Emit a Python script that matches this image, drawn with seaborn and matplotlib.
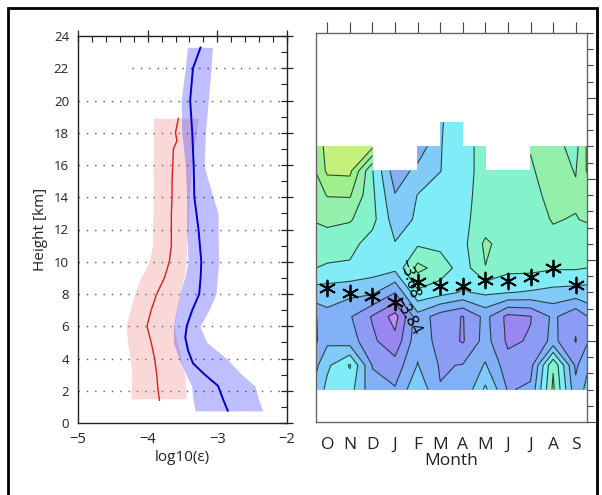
import numpy as np
import matplotlib
matplotlib.use("Agg")
import matplotlib.pyplot as plt
import seaborn as sns
import pandas as pd
from matplotlib.patches import Rectangle
from matplotlib.ticker import MultipleLocator

# ---------------- left panel: dissipation-rate profiles ----------------
red_h = [1.4, 2.0, 3.0, 4.0, 5.0, 6.0, 7.0, 8.0, 9.0, 10.0, 11.0, 12.0, 13.0, 14.0, 15.0, 16.0, 17.0, 17.5, 18.0, 18.9]
red_med = [-3.83, -3.85, -3.87, -3.90, -3.95, -4.01, -3.95, -3.87, -3.76, -3.69, -3.66, -3.66, -3.66, -3.65, -3.65, -3.64, -3.63, -3.58, -3.60, -3.56]
red_band_h = [1.5, 3.0, 4.0, 5.0, 6.0, 7.0, 8.0, 9.0, 10.0, 11.0, 12.0, 14.0, 16.0, 18.0, 18.9]
red_lo = [-4.24, -4.23, -4.25, -4.29, -4.31, -4.25, -4.19, -4.10, -3.98, -3.93, -3.93, -3.92, -3.92, -3.92, -3.92]
red_hi = [-3.44, -3.47, -3.52, -3.58, -3.62, -3.58, -3.54, -3.48, -3.45, -3.44, -3.42, -3.40, -3.37, -3.30, -3.27]

blue_h = [0.75, 1.5, 2.3, 3.0, 3.7, 4.5, 5.3, 6.0, 7.0, 8.0, 9.0, 10.0, 11.0, 12.0, 13.0, 14.0, 16.0, 18.0, 20.0, 22.0, 23.3]
blue_med = [-2.85, -2.92, -2.99, -3.18, -3.35, -3.42, -3.46, -3.44, -3.36, -3.26, -3.24, -3.23, -3.25, -3.27, -3.30, -3.33, -3.34, -3.36, -3.39, -3.35, -3.24]
blue_band_h = [0.75, 1.5, 2.3, 3.0, 4.0, 5.0, 6.0, 7.0, 8.0, 9.0, 10.0, 12.0, 13.0, 14.0, 15.0, 16.0, 18.0, 20.0, 22.0, 23.3]
blue_lo = [-3.32, -3.35, -3.37, -3.45, -3.55, -3.63, -3.63, -3.59, -3.54, -3.47, -3.42, -3.44, -3.44, -3.44, -3.45, -3.46, -3.51, -3.52, -3.46, -3.43]
blue_hi = [-2.35, -2.41, -2.46, -2.65, -2.87, -3.15, -3.25, -3.12, -3.02, -3.00, -2.98, -2.99, -2.99, -3.06, -3.13, -3.19, -3.17, -3.13, -3.09, -3.07]

grid_heights = [2, 4, 6, 8, 10, 12, 14, 16, 18, 20, 22]
grid_starts = [-5, -5, -5, -5, -5, -5, -5, -5, -5, -5, -4.23]

# ---------------- right panel: monthly log10(eps) field ----------------
months = ["O", "N", "D", "J", "F", "M", "A", "M", "J", "J", "A", "S"]
field_heights = [2.0, 3.5, 5.0, 6.5, 8.0, 9.5, 11.0, 12.5, 14.0, 15.5, 17.0, 18.5]
nan = np.nan
field = [
    [-3.708, -3.704, -3.788, -3.796, -3.728, -3.798, -3.796, -3.712, -3.804, -3.792, -3.632, -3.788],
    [-3.728, -3.676, -3.802, -3.824, -3.758, -3.804, -3.798, -3.756, -3.824, -3.816, -3.644, -3.808],
    [-3.768, -3.780, -3.832, -3.868, -3.772, -3.816, -3.844, -3.784, -3.848, -3.836, -3.788, -3.842],
    [-3.772, -3.796, -3.844, -3.896, -3.776, -3.820, -3.842, -3.788, -3.852, -3.842, -3.792, -3.832],
    [-3.740, -3.748, -3.752, -3.798, -3.688, -3.704, -3.724, -3.712, -3.718, -3.724, -3.732, -3.736],
    [-3.684, -3.686, -3.700, -3.708, -3.628, -3.656, -3.700, -3.641, -3.668, -3.668, -3.676, -3.676],
    [-3.664, -3.668, -3.696, -3.718, -3.686, -3.692, -3.692, -3.632, -3.660, -3.656, -3.648, -3.656],
    [-3.628, -3.636, -3.668, -3.740, -3.714, -3.704, -3.688, -3.664, -3.660, -3.652, -3.638, -3.642],
    [-3.598, -3.596, -3.672, -3.758, -3.719, -3.704, -3.692, -3.664, -3.660, -3.652, -3.628, -3.634],
    [-3.552, -3.550, -3.678, -3.784, -3.748, -3.721, -3.696, -3.664, -3.660, -3.644, -3.624, -3.642],
    [-3.540, -3.540, -3.552, nan, -3.788, -3.722, -3.696, -3.664, nan, -3.638, -3.628, -3.652],
    [nan, nan, nan, nan, nan, -3.724, -3.696, nan, nan, nan, nan, nan],
]
levels = [-3.92, -3.88, -3.84, -3.80, -3.76, -3.72, -3.68, -3.64, -3.60, -3.56, -3.52]
band_colors = ["#cc88f2", "#9a86f2", "#8c9cf4", "#81b0f6", "#80cbf7", "#7fecf7",
               "#84f3cc", "#92f0aa", "#9cf08e", "#c4f07c"]
contour_labels = ["−3.68", "−3.84"]
label_x = [4.62, 4.55]
label_h = [8.85, 6.55]
label_rot = [-74, -62]

trop_height = [8.25, 7.95, 7.8, 7.4, 8.65, 8.4, 8.4, 8.75, 8.7, 8.95, 9.5, 8.45]

# ---------------- figure ----------------
sns.set_theme(style="white")
plt.rcParams["font.family"] = ["Open Sans", "DejaVu Sans"]
plt.rcParams["axes.unicode_minus"] = True

fig = plt.figure(figsize=(6.02, 4.95), dpi=100)
axL = fig.add_axes([78 / 602, 1 - 423 / 495, (287 - 78) / 602, (423 - 36) / 495])
axR = fig.add_axes([316 / 602, 1 - 422 / 495, (587 - 316) / 602, (422 - 33) / 495])

# left panel
axL.fill_betweenx(red_band_h, red_lo, red_hi, color="lightcoral", alpha=0.3, lw=0, zorder=2)
axL.fill_betweenx(blue_band_h, blue_lo, blue_hi, color="blue", alpha=0.25, lw=0, zorder=3)
red_df = pd.DataFrame({"eps": red_med, "h": red_h})
blue_df = pd.DataFrame({"eps": blue_med, "h": blue_h})
sns.lineplot(data=red_df, x="eps", y="h", sort=False, orient="y", color="#d42020", lw=1.0, ax=axL, zorder=4)
sns.lineplot(data=blue_df, x="eps", y="h", sort=False, orient="y", color="#0000c8", lw=1.4, ax=axL, zorder=5)
for yv, xs in zip(grid_heights, grid_starts):
    axL.hlines(yv, xs, -2, colors="#555555", linestyles=(0, (1, 5)), lw=1.0, zorder=1)

axL.set_xlim(-5, -2)
axL.set_ylim(0, 24)
axL.xaxis.set_major_locator(MultipleLocator(1))
axL.xaxis.set_minor_locator(MultipleLocator(0.2))
axL.yaxis.set_major_locator(MultipleLocator(2))
axL.yaxis.set_minor_locator(MultipleLocator(1))
axL.tick_params(which="major", direction="inout", length=9, width=0.9, color="#222222",
                top=True, right=True, labelsize=9.5, pad=2, labelcolor="#222222")
axL.tick_params(axis="x", which="major", labelsize=10.5)
axL.tick_params(which="minor", direction="in", length=4, width=0.8, color="#222222", top=True, right=True)
axL.set_xlabel("log10(ε)", fontsize=11, labelpad=2, color="#222222")
axL.set_ylabel("Height [km]", fontsize=11, labelpad=4, color="#222222")
for s in axL.spines.values():
    s.set_color("#222222")
    s.set_linewidth(1.0)

# right panel
Z = np.array(field, dtype=float)
Zw = np.column_stack([Z[:, -1], Z, Z[:, 0]])          # cyclic wrap S | O..S | O
xw = np.arange(0, 14)
Zm = np.ma.masked_invalid(Zw)
axR.contourf(xw, field_heights, Zm, levels=levels, colors=band_colors, corner_mask=False, zorder=1)
axR.contour(xw, field_heights, Zm, levels=levels, colors="#1a2626", linewidths=0.8,
            linestyles="solid", corner_mask=False, alpha=0.85, zorder=2)
for txt, lx, lh, rot in zip(contour_labels, label_x, label_h, label_rot):
    axR.text(lx, lh, txt, rotation=rot, rotation_mode="anchor", ha="center", va="center",
             fontsize=11.5, color="black", zorder=4)
trop_df = pd.DataFrame({"m": np.arange(1, 13), "h": trop_height})
sns.scatterplot(data=trop_df, x="m", y="h", marker=(6, 2, 0), s=130, color="black",
                edgecolor="black", linewidth=1.3, ax=axR, zorder=5)

axR.set_xlim(0.5, 12.5)
axR.set_ylim(0, 24)
axR.set_xticks(np.arange(1, 13))
axR.set_xticklabels(months)
axR.yaxis.set_major_locator(MultipleLocator(5))
axR.yaxis.set_minor_locator(MultipleLocator(1))
axR.tick_params(which="major", direction="out", length=8, width=0.8, color="#444444",
                top=True, right=True, labelleft=False, labelsize=12.5, pad=3, labelcolor="#222222")
axR.tick_params(which="minor", direction="out", length=4, width=0.8, color="#444444", top=True, right=True)
axR.tick_params(axis="y", which="major", length=7)
axR.set_xlabel("Month", fontsize=12.5, labelpad=0, color="#222222")
axR.set_ylabel("")
for s in axR.spines.values():
    s.set_color("#666666")
    s.set_linewidth(1.0)

fig.add_artist(Rectangle((7.5 / 602, -0.05), (597 - 7.5) / 602, 1.05 - 7.5 / 495,
                         transform=fig.transFigure, fill=False, edgecolor="black", lw=2))

fig.savefig("out.png", dpi=100)
